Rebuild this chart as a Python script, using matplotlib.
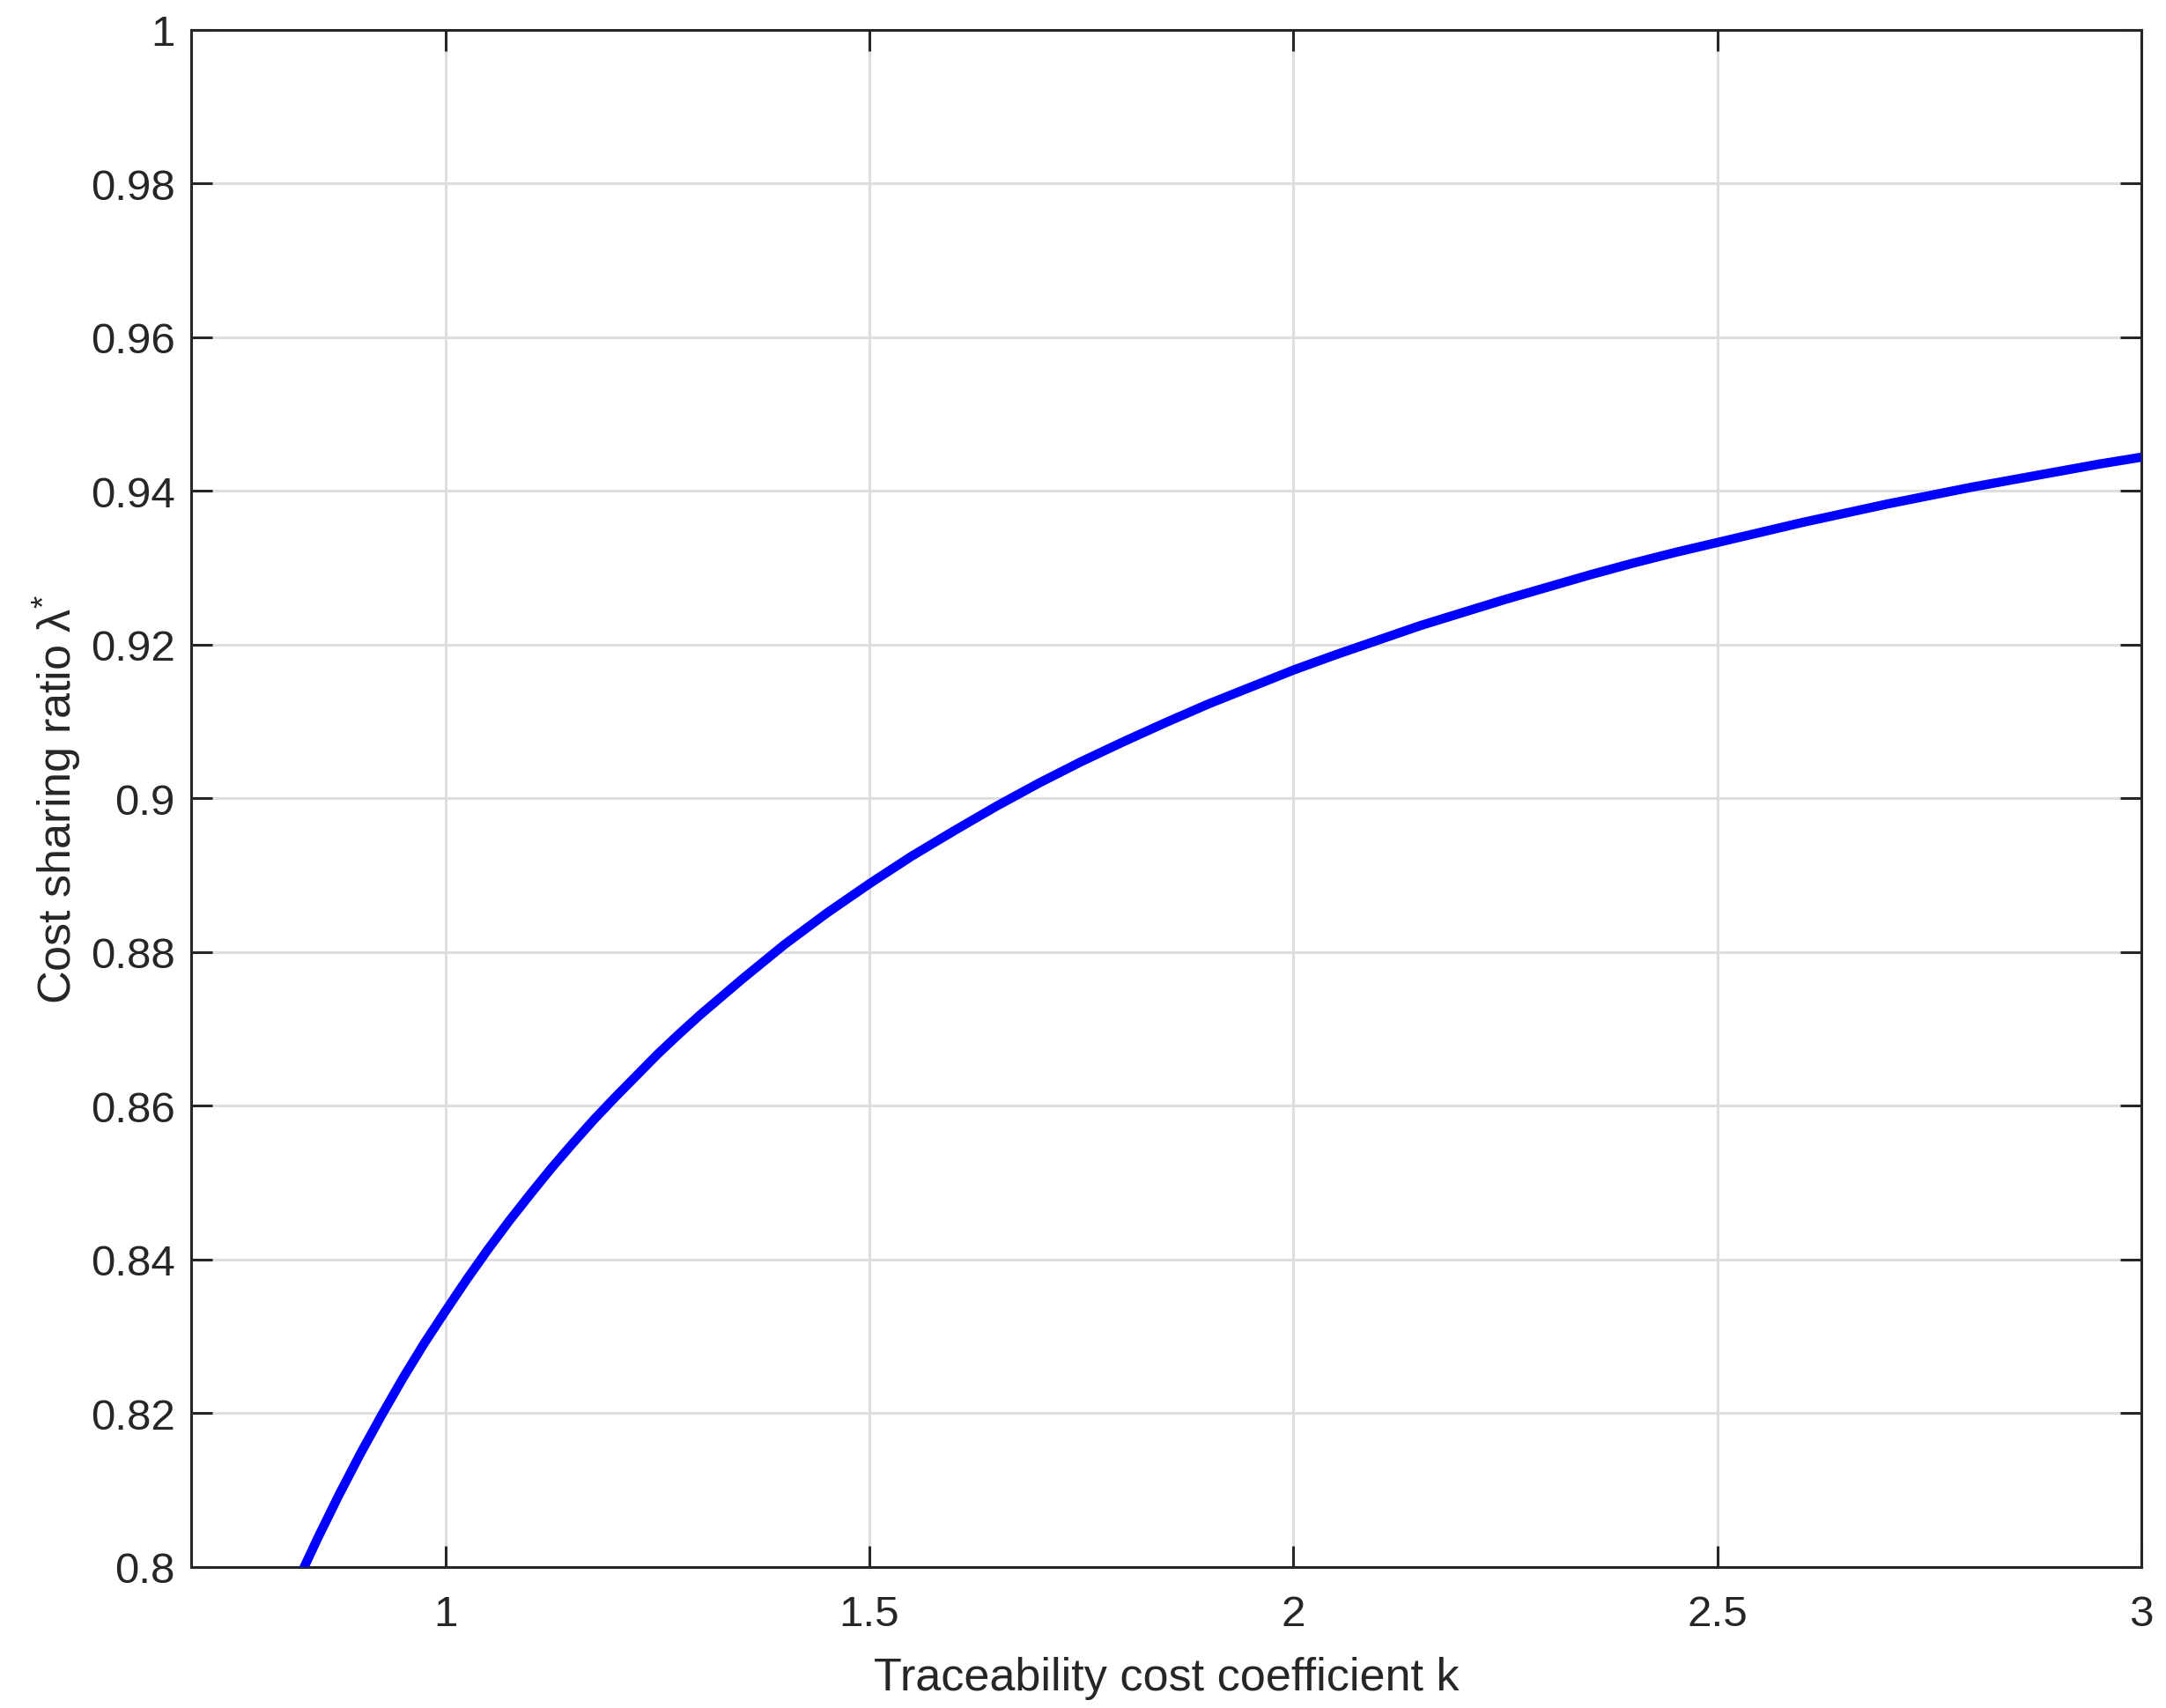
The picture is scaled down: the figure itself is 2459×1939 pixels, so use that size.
import matplotlib
matplotlib.use("Agg")
import matplotlib.pyplot as plt

# Data
k_values = [0.825, 0.85, 0.875, 0.90, 0.925, 0.95, 0.975, 1.00, 1.025, 1.05, 1.075,
            1.10, 1.125, 1.15, 1.175, 1.20, 1.225, 1.25, 1.275, 1.30, 1.35, 1.40,
            1.45, 1.50, 1.55, 1.60, 1.65, 1.70, 1.75, 1.80, 1.85, 1.90, 1.95, 2.00,
            2.05, 2.10, 2.15, 2.20, 2.25, 2.30, 2.35, 2.40, 2.45, 2.50, 2.55, 2.60,
            2.65, 2.70, 2.75, 2.80, 2.85, 2.90, 2.95, 3.00]
lambda_values = [0.7980, 0.8039, 0.8095, 0.8148, 0.8198, 0.8246, 0.8291, 0.8333,
                 0.8374, 0.8413, 0.8450, 0.8485, 0.8519, 0.8551, 0.8582, 0.8611,
                 0.8639, 0.8667, 0.8693, 0.8718, 0.8765, 0.8810, 0.8851, 0.8889,
                 0.8925, 0.8958, 0.8990, 0.9020, 0.9048, 0.9074, 0.9099, 0.9123,
                 0.9145, 0.9167, 0.9187, 0.9206, 0.9225, 0.9242, 0.9259, 0.9275,
                 0.9291, 0.9306, 0.9320, 0.9333, 0.9346, 0.9359, 0.9371, 0.9383,
                 0.9394, 0.9405, 0.9415, 0.9425, 0.9435, 0.9444]
x_ticks = [1, 1.5, 2, 2.5, 3]
x_tick_labels = ["1", "1.5", "2", "2.5", "3"]
y_ticks = [0.8, 0.82, 0.84, 0.86, 0.88, 0.9, 0.92, 0.94, 0.96, 0.98, 1.0]
y_tick_labels = ["0.8", "0.82", "0.84", "0.86", "0.88", "0.9", "0.92", "0.94",
                 "0.96", "0.98", "1"]
x_label = "Traceability cost coefficient k"
y_label = "Cost sharing ratio \u03bb$^{*}$"

plt.rcParams["font.family"] = ["Liberation Sans", "DejaVu Sans"]
plt.rcParams["mathtext.fontset"] = "custom"
plt.rcParams["mathtext.rm"] = "Liberation Sans"
plt.rcParams["mathtext.it"] = "Liberation Sans"

dark = "#262626"
fig = plt.figure(figsize=(24.59, 19.40), dpi=100)
ax = fig.add_axes([0.0882, 0.0825, 0.9004, 0.8995])

ax.plot(k_values, lambda_values, color="#0000ff", lw=7.5, solid_capstyle="butt",
        solid_joinstyle="round", zorder=3)

ax.set_xlim(0.7, 3)
ax.set_ylim(0.8, 1.0)
ax.set_xticks(x_ticks)
ax.set_xticklabels(x_tick_labels)
ax.set_yticks(y_ticks)
ax.set_yticklabels(y_tick_labels)

ax.grid(True, color="#dedede", lw=2.2, zorder=0)
ax.set_axisbelow(True)

for s in ax.spines.values():
    s.set_color(dark)
    s.set_linewidth(2.2)

ax.tick_params(axis="both", which="major", direction="in", length=17, width=2.2,
               color=dark, labelcolor=dark, labelsize=35.5,
               top=True, right=True)
ax.tick_params(axis="x", pad=22)
ax.tick_params(axis="y", pad=13)

ax.set_xlabel(x_label, fontsize=37.5, color=dark, labelpad=18)
ax.set_ylabel(y_label, fontsize=37.5, color=dark, labelpad=6)

fig.savefig("out.png", dpi=100, facecolor="white")
